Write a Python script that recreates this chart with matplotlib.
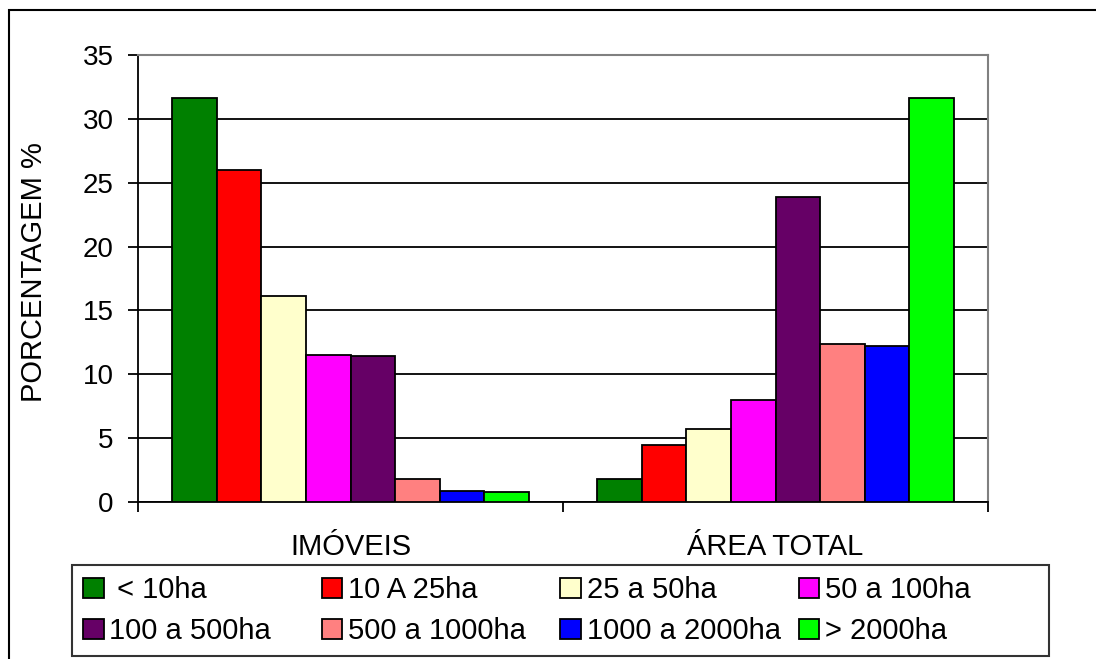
import matplotlib
matplotlib.use("Agg")
import matplotlib.pyplot as plt
from matplotlib.patches import Rectangle
import numpy as np

plt.rcParams['font.family'] = ['Liberation Sans', 'DejaVu Sans']

groups = ['IMÓVEIS', 'ÁREA TOTAL']
classes = [' < 10ha', '10 A 25ha', '25 a 50ha', '50 a 100ha',
           '100 a 500ha', '500 a 1000ha', '1000 a 2000ha', '> 2000ha']
colors = ['#008000', '#FF0000', '#FFFFCC', '#FF00FF',
          '#660066', '#FF8080', '#0000FF', '#00FF00']
imoveis = [31.6, 26.0, 16.1, 11.5, 11.4, 1.8, 0.9, 0.8]
area_total = [1.8, 4.5, 5.7, 8.0, 23.9, 12.4, 12.2, 31.6]

fig = plt.figure(figsize=(10.96, 6.59), dpi=100)
ax = fig.add_axes([0.1259, 0.2382, 0.7756, 0.6783])

x = np.arange(len(groups))
width = 0.105
handles = []
for i, (lab, col) in enumerate(zip(classes, colors)):
    vals = [imoveis[i], area_total[i]]
    b = ax.bar(x + (i - 3.5) * width, vals, width, color=col,
               edgecolor='black', linewidth=1.3, label=lab, zorder=3)
    handles.append(b)

ax.set_xlim(-0.5, 1.5)
ax.set_ylim(0, 35)
ax.set_yticks(np.arange(0, 36, 5))
ax.yaxis.grid(True, color='black', linewidth=1.3, zorder=0)
ax.tick_params(axis='y', labelsize=20, length=7, width=1.3, pad=10.5)

ax.set_xticks([-0.5, 0.5, 1.5])
ax.set_xticklabels([])
ax.tick_params(axis='x', which='major', length=7, width=1.3, direction='out')
ax.set_xticks(x, groups, minor=True)
ax.tick_params(axis='x', which='minor', length=0, labelsize=21, pad=22)

for side in ('left', 'bottom'):
    ax.spines[side].set_color('black')
    ax.spines[side].set_linewidth(1.3)
for side in ('top', 'right'):
    ax.spines[side].set_color('#808080')
    ax.spines[side].set_linewidth(1.5)

fig.text(34 / 1096, 1 - 272 / 659, 'PORCENTAGEM %', rotation=90,
         ha='center', va='center', fontsize=21)

# legend is filled row by row, 4 per row
order = [0, 4, 1, 5, 2, 6, 3, 7]
leg = fig.legend([handles[k] for k in order], [classes[k] for k in order],
                 ncol=4, loc='upper left',
                 bbox_to_anchor=(72 / 1096, 1 - 565 / 659),
                 fontsize=21, frameon=True, fancybox=False,
                 handlelength=0.7, handleheight=0.65, handletextpad=0.2,
                 labelspacing=0.45, borderpad=0.38, borderaxespad=0,
                 columnspacing=0.63)
# equal-width columns
leg._legend_handle_box.mode = 'equal'
leg.get_frame().set_edgecolor('black')
leg.get_frame().set_linewidth(1.5)

fig.add_artist(Rectangle((9 / 1096, -0.1), 1.2, 1 - 10 / 659 + 0.1,
                         transform=fig.transFigure, fill=False,
                         edgecolor='black', linewidth=1.5, clip_on=False))

fig.savefig('out.png', dpi=100)
